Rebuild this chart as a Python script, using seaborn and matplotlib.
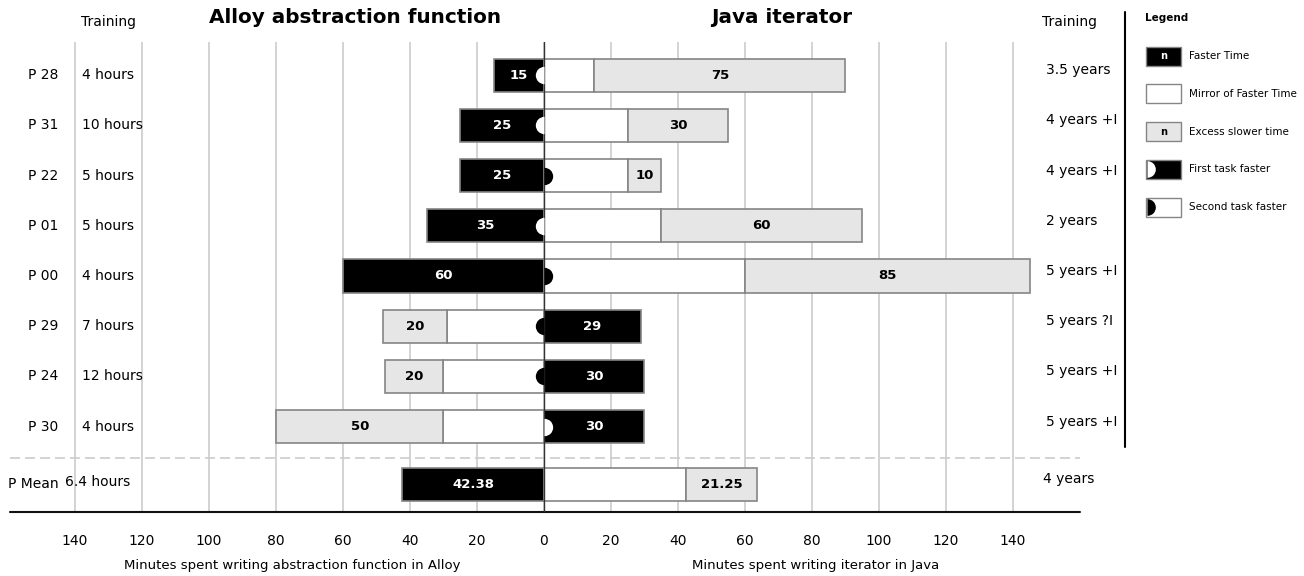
import matplotlib
matplotlib.use("Agg")
import matplotlib.pyplot as plt
import matplotlib.patches as mpatches
import seaborn as sns

# Data
participants = ['P 28', 'P 31', 'P 22', 'P 01', 'P 00', 'P 29', 'P 24', 'P 30']
alloy_training = ['4 hours', '10 hours', '5 hours', '5 hours', '4 hours',
                  '7 hours', '12 hours', '4 hours']
java_experience = ['3.5 years', '4 years +I', '4 years +I', '2 years',
                   '5 years +I', '5 years ?I', '5 years +I', '5 years +I']
alloy_minutes = [15, 25, 25, 35, 60, 48, 47.5, 80]
java_minutes = [90, 55, 35, 95, 145, 29, 30, 30]
excess_labels = ['75', '30', '10', '60', '85', '20', '20', '50']
first_task = ['Alloy', 'Alloy', 'Java', 'Alloy', 'Java', 'Alloy', 'Alloy', 'Java']

mean_label = 'P Mean'
mean_training = '6.4 hours'
mean_experience = '4 years'
mean_alloy = 42.38
mean_java = 63.63
mean_fast_label = '42.38'
mean_excess_label = '21.25'

tick_values = [-140, -120, -100, -80, -60, -40, -20, 0, 20, 40, 60, 80, 100, 120, 140]

BLACK = '#000000'
GREY = '#e6e6e6'
EDGE = '#858585'

sns.set_theme(style="whitegrid")
plt.rcParams['font.family'] = ['DejaVu Sans']
plt.rcParams['text.color'] = 'black'

fig = plt.figure(figsize=(13.04, 5.76), dpi=100)
ax = fig.add_axes([10 / 1304, 1 - 512 / 576, 1070 / 1304, 470 / 576])
ax.set_xlim(-159.4, 160)
ax.set_ylim(8.7, -0.66)
ax.set_axisbelow(True)
for s in ax.spines.values():
    s.set_visible(False)
ax.xaxis.grid(True, color='#cccccc', linewidth=1.2)
ax.yaxis.grid(False)
ax.set_yticks([])
ax.set_xticks(tick_values)
ax.set_xticklabels([str(abs(v)) for v in tick_values])
ax.tick_params(axis='x', length=0, pad=16, labelsize=10, labelcolor='black')

BAR_H = 0.66


def draw_row(y, alloy, java, fast_text, excess_text, first=None):
    fast, slow = min(alloy, java), max(alloy, java)
    fs = -1 if alloy <= java else 1
    kw = dict(height=BAR_H, edgecolor=EDGE, linewidth=1.2, zorder=3)
    ax.barh(y, fs * fast, left=0, color=BLACK, **kw)
    ax.barh(y, -fs * fast, left=0, color='white', **kw)
    ax.barh(y, -fs * (slow - fast), left=-fs * fast, color=GREY, **kw)
    ax.text(fs * fast / 2, y, fast_text, color='white', fontsize=9.5,
            fontweight='bold', ha='center', va='center', zorder=5)
    ax.text(-fs * (fast + slow) / 2, y, excess_text, color='black', fontsize=9.5,
            fontweight='bold', ha='center', va='center', zorder=5)
    if first is not None:
        ms = -1 if first == 'Alloy' else 1
        first_faster = (ms == fs)
        ax.plot([0], [y], marker='o', markersize=12.5,
                fillstyle='left' if ms < 0 else 'right',
                markerfacecolor='white' if first_faster else 'black',
                markerfacecoloralt='none', markeredgewidth=0,
                linestyle='none', zorder=6)


for i, p in enumerate(participants):
    draw_row(i, alloy_minutes[i], java_minutes[i], str(min(alloy_minutes[i], java_minutes[i])),
             excess_labels[i], first_task[i])
    ax.text(-145, i, p, ha='right', va='center', fontsize=10, clip_on=False)
    ax.text(-138, i, alloy_training[i], ha='left', va='center', fontsize=10, clip_on=False)
    ax.text(150, i - 0.1, java_experience[i], ha='left', va='center', fontsize=10,
            clip_on=False)

mean_y = 8.15
draw_row(mean_y, mean_alloy, mean_java, mean_fast_label, mean_excess_label)
ax.text(-145, mean_y, mean_label, ha='right', va='center', fontsize=10, clip_on=False)
ax.text(-143, mean_y - 0.04, mean_training, ha='left', va='center', fontsize=10, clip_on=False)
ax.text(149, mean_y - 0.1, mean_experience, ha='left', va='center', fontsize=10, clip_on=False)

# separators and zero line
ax.axhline(7.625, color='#cccccc', linewidth=1.2, linestyle=(0, (6, 3)), zorder=2)
ax.axhline(8.7, color='#111111', linewidth=1.5, zorder=4, clip_on=False)
ax.axvline(0, color='#333333', linewidth=1.0, zorder=4)

# headers
ax.text(-130, -1.06, 'Training', ha='center', va='center', fontsize=10, clip_on=False)
ax.text(157, -1.06, 'Training', ha='center', va='center', fontsize=10, clip_on=False)
ax.text(-56.4, -1.14, 'Alloy abstraction function', ha='center', va='center',
        fontsize=14.4, fontweight='bold', clip_on=False)
ax.text(71, -1.14, 'Java iterator', ha='center', va='center',
        fontsize=14.4, fontweight='bold', clip_on=False)
ax.text(-75, 9.76, 'Minutes spent writing abstraction function in Alloy',
        ha='center', va='center', fontsize=9.5, clip_on=False)
ax.text(81, 9.76, 'Minutes spent writing iterator in Java',
        ha='center', va='center', fontsize=9.5, clip_on=False)

# legend panel, drawn in pixel coordinates
leg = fig.add_axes([0, 0, 1, 1])
leg.set_xlim(0, 1304)
leg.set_ylim(576, 0)
leg.axis('off')
leg.plot([1125, 1125], [12, 447], color='black', linewidth=1.5)
leg.text(1145, 18, 'Legend', fontsize=7.5, fontweight='bold', va='center')

legend_items = [
    ('Faster Time', BLACK, 'n', 'white', None),
    ('Mirror of Faster Time', 'white', None, None, None),
    ('Excess slower time', GREY, 'n', 'black', None),
    ('First task faster', BLACK, None, None, 'white'),
    ('Second task faster', 'white', None, None, 'black'),
]
for k, (name, fc, inner, inner_c, disc) in enumerate(legend_items):
    cy = 56 + k * 37.8
    leg.add_patch(mpatches.Rectangle((1146, cy - 9.5), 35, 19, facecolor=fc,
                                     edgecolor=EDGE, linewidth=1.0))
    if inner:
        leg.text(1163.5, cy, inner, color=inner_c, fontsize=7, fontweight='bold',
                 ha='center', va='center')
    if disc:
        leg.plot([1146.5], [cy], marker='o', markersize=12, fillstyle='right',
                 markerfacecolor=disc, markerfacecoloralt='none',
                 markeredgewidth=0, linestyle='none')
    leg.text(1189, cy, name, fontsize=7.5, ha='left', va='center')

fig.savefig('out.png', dpi=100)
